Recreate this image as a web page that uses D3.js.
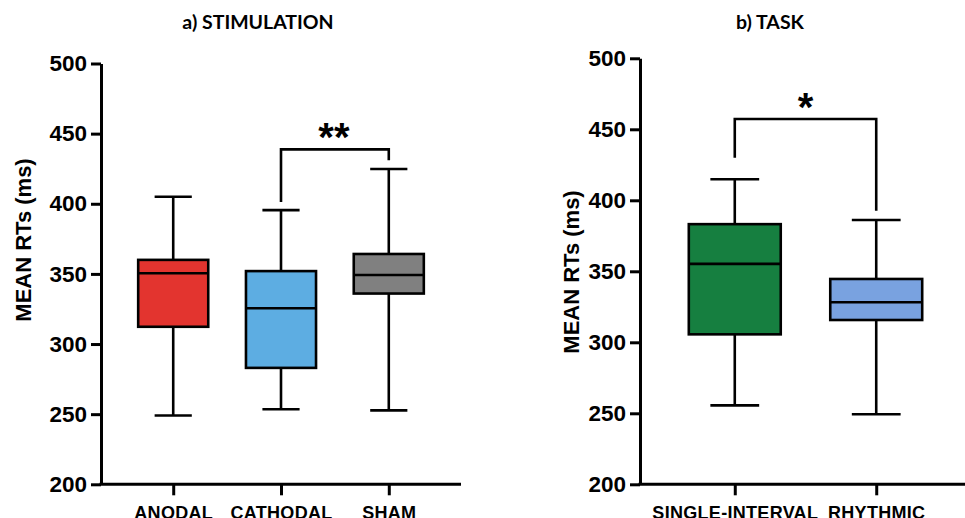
<!DOCTYPE html>
<html>
<head>
<meta charset="utf-8">
<script src="https://cdn.jsdelivr.net/npm/d3@7"></script>
<style>
  body { margin: 0; background: #fff; }
  svg { display: block; }
  .tick text { font-family: "Liberation Sans", Arial, sans-serif; font-weight: bold; fill: #000; }
</style>
</head>
<body>
<div class="chart"></div>
<script>
const W = 965, H = 518;

// panel a
const stimCats = ['ANODAL', 'CATHODAL', 'SHAM'];
const stimColors = ['#e3342f', '#5dade2', '#808080'];
const stimMin = [249, 253.5, 252.7];
const stimQ1 = [312.3, 283, 336];
const stimMed = [350.5, 325.5, 349.2];
const stimQ3 = [360, 352, 364.2];
const stimMax = [405, 395.5, 424.8];

// panel b
const taskCats = ['SINGLE-INTERVAL', 'RHYTHMIC'];
const taskColors = ['#167f40', '#79a2e0'];
const taskMin = [255.6, 249.3];
const taskQ1 = [305.6, 315.7];
const taskMed = [355.2, 328.2];
const taskQ3 = [383.2, 344.6];
const taskMax = [414.8, 386.1];

const yTicks = [200, 250, 300, 350, 400, 450, 500];

const svg = d3.select('.chart')
  .append('svg')
    .attr('width', W)
    .attr('height', H);

function panel(opt) {
  const g = svg.append('g');
  const y = d3.scaleLinear().domain([200, 500]).range([484.3, opt.yTop]);
  const x = d3.scalePoint().domain(opt.cats).range([opt.x0, opt.x1]).padding(0.67);
  const step = x.step();
  const boxW = step * 0.65, capW = step * 0.345;

  // boxes
  opt.cats.forEach((c, i) => {
    const cx = x(c);
    const lw = 2.6;
    g.append('line').attr('x1', cx).attr('x2', cx)
      .attr('y1', y(opt.max[i])).attr('y2', y(opt.q3[i]))
      .attr('stroke', '#000').attr('stroke-width', lw);
    g.append('line').attr('x1', cx).attr('x2', cx)
      .attr('y1', y(opt.q1[i])).attr('y2', y(opt.min[i]))
      .attr('stroke', '#000').attr('stroke-width', lw);
    [opt.max[i], opt.min[i]].forEach(v => {
      g.append('line').attr('x1', cx - capW / 2).attr('x2', cx + capW / 2)
        .attr('y1', y(v)).attr('y2', y(v))
        .attr('stroke', '#000').attr('stroke-width', lw);
    });
    g.append('rect')
      .attr('x', cx - boxW / 2).attr('width', boxW)
      .attr('y', y(opt.q3[i])).attr('height', y(opt.q1[i]) - y(opt.q3[i]))
      .attr('fill', opt.colors[i]).attr('stroke', '#000').attr('stroke-width', lw);
    g.append('line').attr('x1', cx - boxW / 2).attr('x2', cx + boxW / 2)
      .attr('y1', y(opt.med[i])).attr('y2', y(opt.med[i]))
      .attr('stroke', '#000').attr('stroke-width', lw);
  });

  // significance bracket
  const b = opt.bracket;
  const bx1 = x(opt.cats[b.from]), bx2 = x(opt.cats[b.to]);
  g.append('path')
    .attr('d', `M${bx1},${y(b.leftEnd)}V${y(b.top)}H${bx2}V${y(b.rightEnd)}`)
    .attr('fill', 'none').attr('stroke', '#000').attr('stroke-width', 2.6);
  g.append('text')
    .attr('x', (bx1 + bx2) / 2 + b.dx).attr('y', y(b.top) + 2)
    .attr('text-anchor', 'middle')
    .style('font-family', '"Liberation Sans", Arial, sans-serif')
    .style('font-weight', 'bold').style('font-size', '40px')
    .text(b.label);

  // axes
  const yAxis = g.append('g')
    .attr('transform', `translate(${opt.x0},0)`)
    .call(d3.axisLeft(y).tickValues(yTicks).tickSize(10).tickSizeOuter(0).tickPadding(4));
  yAxis.selectAll('.tick text').style('font-size', '22.5px');
  yAxis.selectAll('line, path').attr('stroke', '#000').attr('stroke-width', 3);

  const xAxis = g.append('g')
    .attr('transform', `translate(0,484.3)`)
    .call(d3.axisBottom(x).tickSize(11).tickSizeOuter(0).tickPadding(11));
  xAxis.selectAll('.tick text').style('font-size', '18px').style('letter-spacing', '0.3px');
  xAxis.selectAll('line, path').attr('stroke', '#000').attr('stroke-width', 3);
  xAxis.select('.domain').attr('d', `M${opt.x0 - 1.5},0H${opt.x1}`);

  // labels
  g.append('text')
    .attr('x', opt.titleX).attr('y', 29)
    .attr('text-anchor', 'middle')
    .style('font-family', 'Lato, "Open Sans", sans-serif')
    .style('font-weight', 'bold').style('font-size', '19.5px')
    .text(opt.title);
  g.append('text')
    .attr('transform', `translate(${opt.labelX},${opt.labelY}) rotate(-90)`)
    .attr('text-anchor', 'middle')
    .style('font-family', '"Liberation Sans", Arial, sans-serif')
    .style('font-weight', 'bold').style('font-size', '22px')
    .text('MEAN RTs (ms)');
}

panel({
  cats: stimCats, colors: stimColors,
  min: stimMin, q1: stimQ1, med: stimMed, q3: stimQ3, max: stimMax,
  x0: 101, x1: 461, yTop: 63.5,
  title: 'a) STIMULATION', titleX: 258,
  labelX: 31, labelY: 240,
  bracket: { from: 1, to: 2, top: 438.8, leftEnd: 401.3, rightEnd: 431, label: '**', dx: -1 }
});

panel({
  cats: taskCats, colors: taskColors,
  min: taskMin, q1: taskQ1, med: taskMed, q3: taskQ3, max: taskMax,
  x0: 640, x1: 971, yTop: 58.3,
  title: 'b) TASK', titleX: 770,
  labelX: 579, labelY: 272,
  bracket: { from: 0, to: 1, top: 457.3, leftEnd: 430, rightEnd: 392.7, label: '*', dx: 0 }
});
</script>
</body>
</html>
